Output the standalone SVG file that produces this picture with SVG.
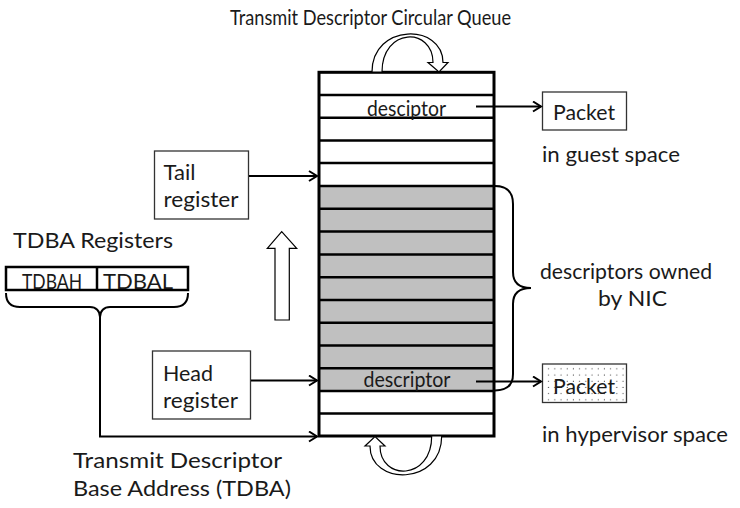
<svg xmlns="http://www.w3.org/2000/svg" width="740" height="508" viewBox="0 0 740 508">
<style>
text{font-family:Lato,"Open Sans","Liberation Sans",sans-serif;fill:#1a1a1a;font-size:21px}
.box{fill:#fff;stroke:#333;stroke-width:1.3}
.row{stroke:#000;stroke-width:2.5;fill:none}
.conn{stroke:#000;stroke-width:2;fill:none}
.blk{fill:#fff;stroke:#000;stroke-width:1.2}
</style>
<defs>
<marker id="arr" markerUnits="userSpaceOnUse" markerWidth="12" markerHeight="14" refX="9" refY="6" orient="auto">
<path d="M1,1 L9,6 L1,11" fill="none" stroke="#000" stroke-width="2"/>
</marker>
<pattern id="dots" patternUnits="userSpaceOnUse" width="6.2" height="6.2">
<rect width="6.2" height="6.2" fill="#fff"/>
<circle cx="3" cy="3" r="0.55" fill="#333"/>
</pattern>
</defs>
<rect width="740" height="508" fill="#fff"/>

<g id="title"><text x="230" y="24.5" font-size="20.5" textLength="281" lengthAdjust="spacingAndGlyphs">Transmit Descriptor Circular Queue</text></g>

<g id="queue">
<rect x="319" y="186" width="175" height="205" fill="#c0c0c0"/>
<path class="row" d="M319,95H494M319,117.7H494M319,140.4H494M319,163.1H494M319,186H494M319,208.8H494M319,231.6H494M319,254.4H494M319,277.2H494M319,300H494M319,322.7H494M319,345.5H494M319,368.2H494M319,391H494M319,413.6H494"/>
<rect x="319" y="72.3" width="175" height="363.7" fill="none" stroke="#000" stroke-width="3"/>
<text x="367" y="115.5" font-size="21" textLength="79" lengthAdjust="spacingAndGlyphs">desciptor</text>
<text x="363.5" y="387" font-size="21" textLength="87" lengthAdjust="spacingAndGlyphs">descriptor</text>
</g>

<g id="loop-top"><path class="blk" d="M372,72 C372,23 443,23 443,62.5 L448,62.5 L439,72 L428,62.5 L433,62.5 C433,27 382,27 382,72 Z"/></g>
<g id="loop-bottom"><path class="blk" d="M441.7,436 C441.7,486 370,486 370,446 L365,446 L375,436.5 L385,446 L380,446 C380,481 431.7,481 431.7,436 Z"/></g>
<g id="up-arrow"><path class="blk" d="M275,320 L275,248.3 L267.3,248.3 L281.7,231.7 L296.7,248.3 L289.3,248.3 L289.3,320 Z"/></g>

<g id="tail-register">
<rect class="box" x="154.5" y="151" width="94" height="68"/>
<text x="163.5" y="179.5" font-size="22" textLength="32" lengthAdjust="spacingAndGlyphs">Tail</text>
<text x="163.5" y="207" font-size="22" textLength="75" lengthAdjust="spacingAndGlyphs">register</text>
</g>

<g id="head-register">
<rect class="box" x="152.5" y="351" width="98" height="68"/>
<text x="163" y="380.5" font-size="22" textLength="50" lengthAdjust="spacingAndGlyphs">Head</text>
<text x="163" y="407.5" font-size="22" textLength="75" lengthAdjust="spacingAndGlyphs">register</text>
</g>

<g id="tdba-registers">
<text x="13" y="247.5" textLength="160" lengthAdjust="spacingAndGlyphs" font-size="23">TDBA Registers</text>
<rect x="6" y="267" width="182" height="23" fill="#fff" stroke="#000" stroke-width="2.5"/>
<line x1="97" y1="267" x2="97" y2="290" stroke="#000" stroke-width="2.5"/>
<text x="22" y="288.5" font-size="23" textLength="60" lengthAdjust="spacingAndGlyphs">TDBAH</text>
<text x="103" y="288.5" font-size="23" textLength="70" lengthAdjust="spacingAndGlyphs">TDBAL</text>
<path class="conn" d="M6,293 C6,302 10,307 20,307 L90,307 C96,307 100,311 100,317 C100,311 104,307 110,307 L174,307 C184,307 188,302 188,293"/>
</g>

<g id="packet-guest">
<rect class="box" x="542.5" y="92" width="84" height="38"/>
<text x="553" y="119.5" font-size="22" textLength="62" lengthAdjust="spacingAndGlyphs">Packet</text>
<text x="542" y="161.5" font-size="21" textLength="138" lengthAdjust="spacingAndGlyphs">in guest space</text>
</g>

<g id="packet-hypervisor">
<rect x="542.5" y="364" width="84" height="38.5" fill="url(#dots)" stroke="#333" stroke-width="1.3"/>
<text x="553" y="393.5" font-size="22" textLength="62" lengthAdjust="spacingAndGlyphs">Packet</text>
<text x="542" y="442" font-size="21" textLength="186" lengthAdjust="spacingAndGlyphs">in hypervisor space</text>
</g>

<g id="nic-owned">
<path class="conn" d="M495,186 C507,186 513,192 513,204 L513,272 C513,283 520,288 531,288 C520,288 513,293 513,304 L513,374 C513,385 507,390.5 495,390.5"/>
<text x="540" y="279" textLength="172" lengthAdjust="spacingAndGlyphs" font-size="23">descriptors owned</text>
<text x="598" y="306" textLength="69" lengthAdjust="spacingAndGlyphs" font-size="23">by NIC</text>
</g>

<g id="tdba-label">
<text x="73" y="468" textLength="209" lengthAdjust="spacingAndGlyphs" font-size="23">Transmit Descriptor</text>
<text x="73" y="496" textLength="218" lengthAdjust="spacingAndGlyphs" font-size="23">Base Address (TDBA)</text>
</g>

<g id="connectors">
<line class="conn" x1="476" y1="106.5" x2="541" y2="106.5" marker-end="url(#arr)"/>
<line class="conn" x1="476" y1="381.5" x2="541" y2="381.5" marker-end="url(#arr)"/>
<line class="conn" x1="249" y1="176" x2="317" y2="176" marker-end="url(#arr)"/>
<line class="conn" x1="251" y1="380.5" x2="317" y2="380.5" marker-end="url(#arr)"/>
<path class="conn" d="M100,317 L100,436.5 L317,436.5" marker-end="url(#arr)"/>
</g>
</svg>
